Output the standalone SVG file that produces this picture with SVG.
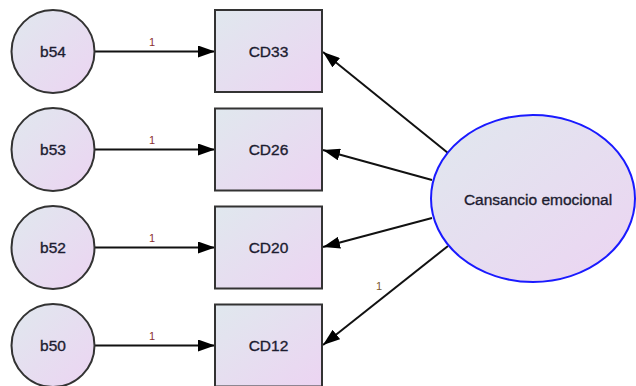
<svg xmlns="http://www.w3.org/2000/svg" width="636" height="386" viewBox="0 0 636 386">
<defs>
<linearGradient id="g" x1="0" y1="0" x2="1" y2="1">
<stop offset="0" stop-color="#e0e8ee"/>
<stop offset="1" stop-color="#ecd4f2"/>
</linearGradient>
<marker id="ah" markerUnits="userSpaceOnUse" markerWidth="18" markerHeight="12" refX="17" refY="6" orient="auto">
<path d="M0,0 L17,6 L0,12 Z" fill="#000"/>
</marker>
<style>
.c{fill:url(#g);stroke:#333;stroke-width:2}
.b{fill:url(#g);stroke:#333;stroke-width:2}
.e{fill:url(#g);stroke:#1a1aff;stroke-width:2}
.t{font-family:"Liberation Sans",Arial,sans-serif;font-size:15.5px;fill:#1c1c30;stroke:#1c1c30;stroke-width:0.35;text-anchor:middle;dominant-baseline:central}
.l{font-family:"Liberation Sans",Arial,sans-serif;font-size:11px;text-anchor:middle;fill:#8b3030}
.a{stroke:#111;stroke-width:2;fill:none;marker-end:url(#ah)}
</style>
</defs>
<rect width="636" height="386" fill="#fff"/>
<g id="connectors">
<line class="a" x1="95" y1="51.5" x2="215" y2="51.5"/>
<line class="a" x1="95" y1="149.5" x2="215" y2="149.5"/>
<line class="a" x1="95" y1="247.5" x2="215" y2="247.5"/>
<line class="a" x1="95" y1="345.5" x2="215" y2="345.5"/>
<line class="a" x1="448" y1="153" x2="323" y2="52"/>
<line class="a" x1="432" y1="180" x2="323" y2="150"/>
<line class="a" x1="432" y1="218" x2="323" y2="247"/>
<line class="a" x1="448" y1="246" x2="323" y2="345"/>
<text class="l" x="152" y="46">1</text>
<text class="l" x="152" y="144">1</text>
<text class="l" x="152" y="242">1</text>
<text class="l" x="152" y="340">1</text>
<text class="l" x="379" y="290" style="fill:#7a5a30">1</text>
</g>
<g id="b54"><circle class="c" cx="53" cy="51.5" r="41.5"/><text class="t" x="53" y="51.5">b54</text></g>
<g id="b53"><circle class="c" cx="53" cy="149.5" r="41.5"/><text class="t" x="53" y="149.5">b53</text></g>
<g id="b52"><circle class="c" cx="53" cy="247.5" r="41.5"/><text class="t" x="53" y="247.5">b52</text></g>
<g id="b50"><circle class="c" cx="53" cy="345.5" r="41.5"/><text class="t" x="53" y="345.5">b50</text></g>
<g id="CD33"><rect class="b" x="215" y="10" width="107" height="82"/><text class="t" x="268.5" y="51.5">CD33</text></g>
<g id="CD26"><rect class="b" x="215" y="108.5" width="107" height="82"/><text class="t" x="268.5" y="149.5">CD26</text></g>
<g id="CD20"><rect class="b" x="215" y="206.5" width="107" height="82"/><text class="t" x="268.5" y="247.5">CD20</text></g>
<g id="CD12"><rect class="b" x="215" y="304.5" width="107" height="82"/><text class="t" x="268.5" y="345.5">CD12</text></g>
<g id="CE"><ellipse class="e" cx="533" cy="198.5" rx="102" ry="83.5"/><text class="t" x="538" y="199.5">Cansancio emocional</text></g>
</svg>
